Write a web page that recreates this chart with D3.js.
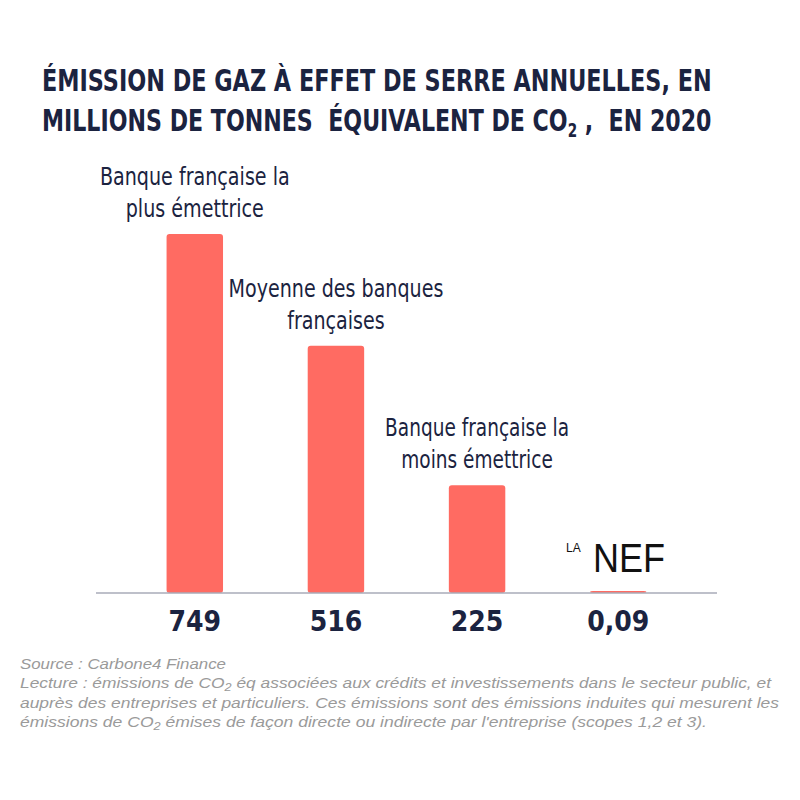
<!DOCTYPE html>
<html>
<head>
<meta charset="utf-8">
<script src="https://cdn.jsdelivr.net/npm/d3@7"></script>
<style>
  body { margin: 0; background: #fff; }
  text { white-space: pre; }
</style>
</head>
<body>
<div id="chart"></div>
<script>
// données
var categories = ["top", "moyenne", "bas", "nef"];
var values = [749, 516, 225, 0.09];
var valueLabels = ["749", "516", "225", "0,09"];
var annotations = [
  ["Banque française la", "plus émettrice"],
  ["Moyenne des banques", "françaises"],
  ["Banque française la", "moins émettrice"],
  null
];
var annotationWidths = [190, 215, 184, 0];

var navy = "#1b2340";
var barColor = "#ff6b62";

var W = 800, H = 800;
var svg = d3.select("#chart").append("svg")
  .attr("width", W).attr("height", H)
  .style("font-family", "'DejaVu Sans Condensed', 'DejaVu Sans', sans-serif");

// squeeze a text group horizontally so that it spans `width` from x0
function fitWidth(g, x0, width){
  var w = g.node().getBBox().width;
  g.attr("transform", "translate(" + x0 + ",0) scale(" + (width / w) + ",1)");
}

// titre
var title1 = svg.append("g").attr("fill", navy).style("font-weight", "bold").style("font-size", "31px");
title1.append("text").attr("y", 91).text("ÉMISSION DE GAZ À EFFET DE SERRE ANNUELLES, EN");
fitWidth(title1, 42, 670);
var title2 = svg.append("g").attr("fill", navy).style("font-weight", "bold").style("font-size", "31px");
var t2 = title2.append("text").attr("y", 131);
t2.append("tspan").text("MILLIONS DE TONNES  ÉQUIVALENT DE CO");
t2.append("tspan").attr("dy", 6).style("font-size", "19px").text("2");
t2.append("tspan").attr("dy", -6).text(" ,  EN 2020");
fitWidth(title2, 42, 670);

// échelles
var baseY = 593;
var x = d3.scaleBand().domain(categories).range([96, 717]).paddingInner(0.6).paddingOuter(0.5);
var y = d3.scaleLinear().domain([0, 749]).range([baseY, 234]);

// barres
svg.selectAll("rect.bar").data(values).enter().append("rect")
  .attr("class", "bar")
  .attr("x", function(d, i){ return x(categories[i]); })
  .attr("width", x.bandwidth())
  .attr("y", function(d){ return Math.min(y(d), baseY - 2); })
  .attr("height", function(d){ return Math.max(baseY - y(d), 2); })
  .attr("rx", 3)
  .attr("fill", barColor);

// axe
svg.append("g")
  .attr("transform", "translate(0," + baseY + ")")
  .call(d3.axisBottom(x).tickSize(0).tickFormat(""))
  .call(function(g){
    g.select(".domain").attr("stroke", "#a9abb8").attr("stroke-width", 1.5)
      .attr("d", "M96,0H717");
  });

// valeurs
svg.selectAll("text.val").data(valueLabels).enter().append("text")
  .attr("class", "val")
  .attr("x", function(d, i){ return x(categories[i]) + x.bandwidth() / 2; })
  .attr("y", 631)
  .attr("text-anchor", "middle")
  .attr("fill", navy)
  .style("font-weight", "bold")
  .style("font-size", "28px")
  .text(function(d){ return d; });

// annotations (deux lignes, compressées horizontalement)
annotations.forEach(function(d, i){
  if (d == null) return;
  var cx = x(categories[i]) + x.bandwidth() / 2;
  var top = y(values[i]);
  var g = svg.append("g").attr("class", "ann").attr("fill", navy).style("font-size", "24px");
  var l1 = g.append("text").attr("text-anchor", "middle").attr("y", -32).text(d[0]);
  g.append("text").attr("text-anchor", "middle").attr("y", 0).text(d[1]);
  var k = annotationWidths[i] / l1.node().getComputedTextLength();
  g.attr("transform", "translate(" + cx + "," + (top - 17) + ") scale(" + k + ",1)");
});

// logo LA NEF
var logo = svg.append("g").attr("fill", "#111");
logo.append("text").attr("x", 566).attr("y", 552)
  .style("font-family", "'Liberation Sans', sans-serif").style("font-size", "12px")
  .text("LA");
logo.append("text").attr("x", 593).attr("y", 572)
  .style("font-family", "'Liberation Sans', sans-serif").style("font-size", "40px")
  .attr("textLength", 72).attr("lengthAdjust", "spacingAndGlyphs")
  .text("NEF");

// pied de page
var foot = svg.append("g").attr("fill", "#9a9a9a")
  .style("font-family", "'Liberation Sans', sans-serif")
  .style("font-style", "italic").style("font-size", "15px");
foot.append("text").attr("x", 20).attr("y", 669)
  .attr("textLength", 206).attr("lengthAdjust", "spacingAndGlyphs")
  .text("Source : Carbone4 Finance");
var f2 = foot.append("text").attr("x", 20).attr("y", 688)
  .attr("textLength", 751).attr("lengthAdjust", "spacingAndGlyphs");
f2.append("tspan").text("Lecture : émissions de CO");
f2.append("tspan").attr("dy", 3).style("font-size", "11px").text("2");
f2.append("tspan").attr("dy", -3).text(" éq associées aux crédits et investissements dans le secteur public, et");
foot.append("text").attr("x", 20).attr("y", 708)
  .attr("textLength", 759).attr("lengthAdjust", "spacingAndGlyphs")
  .text("auprès des entreprises et particuliers. Ces émissions sont des émissions induites qui mesurent les");
var f4 = foot.append("text").attr("x", 20).attr("y", 727)
  .attr("textLength", 687).attr("lengthAdjust", "spacingAndGlyphs");
f4.append("tspan").text("émissions de CO");
f4.append("tspan").attr("dy", 3).style("font-size", "11px").text("2");
f4.append("tspan").attr("dy", -3).text(" émises de façon directe ou indirecte par l'entreprise (scopes 1,2 et 3).");
</script>
</body>
</html>
